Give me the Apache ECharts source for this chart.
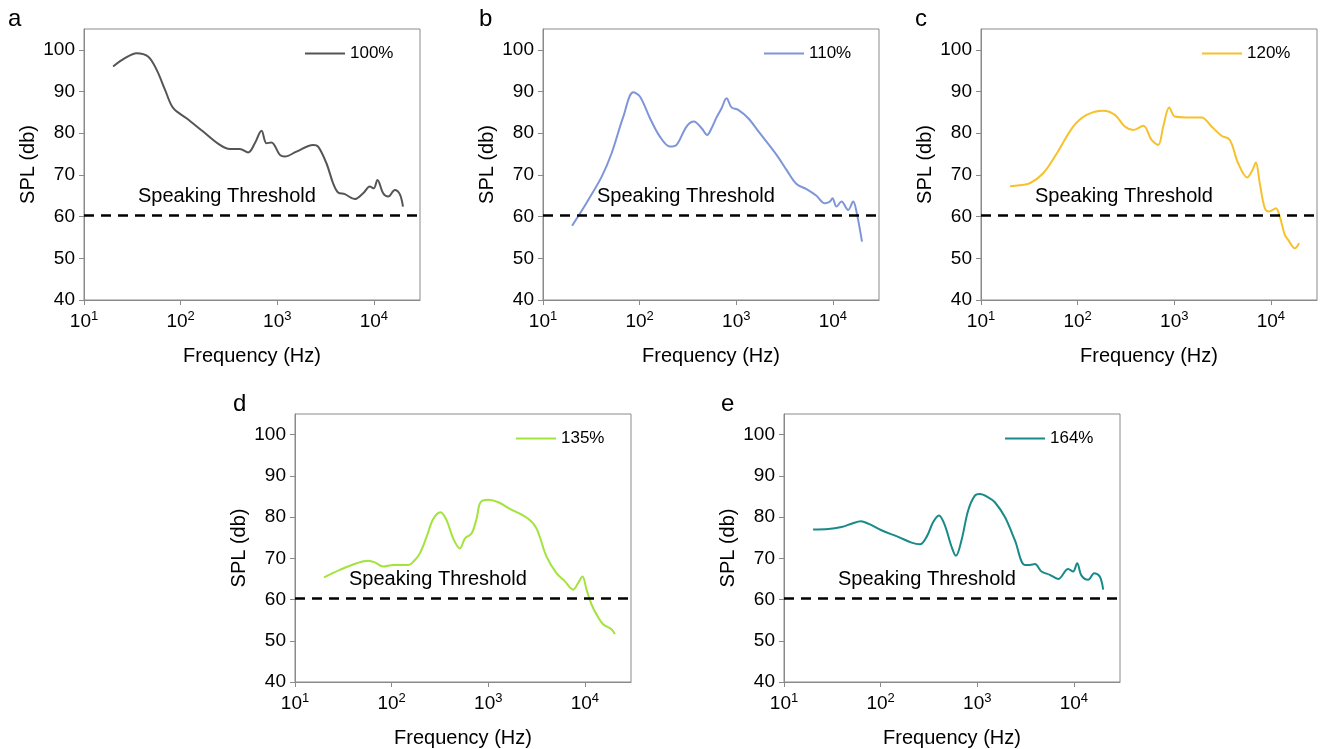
<!DOCTYPE html>
<html>
<head>
<meta charset="utf-8">
<script src="https://cdn.jsdelivr.net/npm/echarts@6/dist/echarts.min.js"></script>
<style>
  html, body { margin: 0; padding: 0; background: #fff; }
  #chart { width: 1320px; height: 749px; }
</style>
</head>
<body>
<div id="chart"></div>
<script>
// ---------- data ----------
const panelLetters = ['a', 'b', 'c', 'd', 'e'];
const seriesNames = ['100%', '110%', '120%', '135%', '164%'];
const seriesColors = ['#555555', '#7f95d9', '#f7c12b', '#a2e33c', '#188a88'];
const xTickValues = [10, 100, 1000, 10000];
const yTickValues = [40, 50, 60, 70, 80, 90, 100];
const thresholdSPL = 60.3;
const thresholdLabel = 'Speaking Threshold';

const freqA = [20, 26.5, 35, 46, 56.5, 69, 84, 115, 171, 255, 324, 410, 500, 586, 687, 774, 871, 1064, 1197, 1581, 2350, 2649, 3228, 3784, 4266, 5000, 6339, 7745, 9078, 9977, 10890, 12470, 14060, 16480, 18530, 20000];
const splA  = [96.0, 98.0, 99.2, 98.4, 95.2, 90.4, 86.0, 83.6, 80.4, 77.2, 76.2, 76.2, 75.4, 77.6, 80.6, 77.6, 77.8, 74.8, 74.4, 75.6, 77.2, 76.8, 72.8, 68.0, 65.8, 65.4, 64.2, 65.6, 67.2, 66.8, 68.8, 65.6, 64.8, 66.4, 65.4, 62.4];

const freqB = [20, 24.2, 29.4, 40.5, 51.3, 67.8, 85.9, 100.7, 128, 162, 206, 241, 306, 364, 438, 500, 555, 625, 705, 793, 893, 1047, 1330, 1754, 2612, 3311, 4207, 5333, 6761, 8260, 9290, 9908, 10890, 12270, 14390, 16220, 17540, 20000];
const splB  = [57.8, 60.8, 64.0, 69.6, 75.2, 84.0, 89.8, 88.8, 83.6, 79.2, 76.8, 77.2, 81.6, 82.8, 81.2, 79.6, 81.2, 83.8, 86.0, 88.4, 86.2, 85.6, 83.6, 80.0, 74.8, 71.2, 67.8, 66.6, 65.0, 63.2, 63.6, 64.4, 62.4, 63.6, 61.6, 63.6, 61.2, 54.0];

const freqC = [20, 25, 32, 44, 61, 90, 124, 184, 243, 308, 377, 478, 582, 682, 769, 887, 1014, 1340, 1914, 2432, 3083, 3758, 4581, 5675, 6457, 6982, 7674, 8650, 9594, 11250, 12360, 13930, 15100, 17700, 19590];
const splC  = [67.3, 67.5, 68.0, 70.4, 75.2, 81.6, 84.4, 85.4, 84.4, 81.6, 80.8, 81.8, 78.4, 77.2, 81.6, 86.2, 84.0, 83.8, 83.8, 81.6, 79.4, 78.4, 72.8, 69.4, 71.2, 73.0, 68.0, 62.0, 61.2, 62.0, 60.0, 55.6, 54.4, 52.4, 53.6];

const freqD = [20, 29.2, 43.5, 57.3, 67.1, 81.8, 104, 149, 174, 196, 230, 270, 321, 371, 434, 509, 573, 671, 757, 832, 1000, 1268, 1675, 2588, 3162, 4009, 5082, 6209, 7568, 8511, 9441, 10400, 11700, 13180, 15450, 18840, 20400];
const splD  = [65.4, 67.2, 68.8, 69.4, 69.0, 68.0, 68.4, 68.4, 69.6, 71.2, 75.2, 79.6, 81.2, 79.2, 74.8, 72.4, 74.8, 76.0, 79.6, 83.6, 84.2, 83.6, 82.0, 79.6, 77.2, 70.4, 66.4, 64.4, 62.4, 64.0, 65.6, 62.4, 58.8, 56.4, 54.0, 52.8, 51.6];

const freqE = [20, 28.7, 39.4, 50.1, 62.5, 74.5, 102, 152, 209, 255, 299, 350, 401, 462, 542, 601, 687, 805, 944, 1064, 1297, 1521, 1932, 2449, 3105, 3499, 3945, 4624, 5636, 6871, 8730, 9817, 10810, 11990, 14060, 16220, 18530, 20090];
const splE  = [77.0, 77.1, 77.6, 78.4, 79.0, 78.4, 76.8, 75.2, 73.8, 73.4, 75.2, 78.8, 80.4, 78.0, 72.8, 70.6, 74.4, 81.6, 85.2, 85.6, 84.8, 83.6, 80.0, 74.4, 68.4, 68.4, 68.6, 66.8, 66.0, 65.0, 67.4, 66.8, 68.8, 65.8, 64.8, 66.4, 65.6, 62.4];

const freqs = [freqA, freqB, freqC, freqD, freqE];
const spls = [splA, splB, splC, splD, splE];

// ---------- layout ----------
const FONT = '"Liberation Sans", Arial, Helvetica, sans-serif';
const grids = [
  { left: 84,  top: 29,  width: 336, height: 271 },
  { left: 543, top: 29,  width: 336, height: 271 },
  { left: 981, top: 29,  width: 336, height: 271 },
  { left: 295, top: 414, width: 336, height: 271 },
  { left: 784, top: 414, width: 336, height: 271 }
];
const AXIS_GRAY = '#8a8a8a';

const option = {
  animation: false,
  backgroundColor: '#ffffff',
  textStyle: { fontFamily: FONT },
  grid: grids.map(g => ({ left: g.left, top: g.top, width: g.width, height: g.height,
    show: true, borderColor: AXIS_GRAY, borderWidth: 1, containLabel: false })),
  xAxis: grids.map((g, i) => ({
    type: 'log', logBase: 10, gridIndex: i, min: 10, max: 30000,
    name: 'Frequency (Hz)', nameLocation: 'middle', nameGap: 46,
    nameTextStyle: { fontSize: 20, color: '#000', fontFamily: FONT },
    axisLine: { show: true, lineStyle: { color: AXIS_GRAY, width: 1 } },
    axisTick: { show: true, length: 5, inside: false, customValues: xTickValues, lineStyle: { color: AXIS_GRAY } },
    splitLine: { show: false },
    minorTick: { show: false },
    axisLabel: {
      customValues: xTickValues,
      margin: 10,
      color: '#000',
      formatter: function (v) {
        const e = Math.round(Math.log10(v));
        return '{b|10}{s|' + e + '}';
      },
      rich: {
        b: { fontSize: 19, color: '#000', fontFamily: FONT, lineHeight: 24 },
        s: { fontSize: 13, color: '#000', fontFamily: FONT, verticalAlign: 'top', lineHeight: 14 }
      }
    }
  })),
  yAxis: grids.map((g, i) => ({
    type: 'value', gridIndex: i, min: 40, max: 105, interval: 10,
    name: 'SPL (db)', nameLocation: 'middle', nameGap: 46, nameRotate: 90,
    nameTextStyle: { fontSize: 20, color: '#000', fontFamily: FONT },
    axisLine: { show: true, lineStyle: { color: AXIS_GRAY, width: 1 } },
    axisTick: { show: true, length: 5, inside: false, customValues: yTickValues, lineStyle: { color: AXIS_GRAY } },
    splitLine: { show: false },
    axisLabel: { customValues: yTickValues, margin: 9, fontSize: 19, color: '#000', fontFamily: FONT }
  })),
  legend: grids.map((g, i) => ({
    data: [{ name: seriesNames[i], icon: 'rect' }],
    left: g.left + 221, top: g.top + 16,
    padding: 0,
    itemWidth: 40, itemHeight: 2, itemGap: 5,
    itemStyle: { color: seriesColors[i] },
    textStyle: { fontSize: 17, color: '#000', fontFamily: FONT },
    selectedMode: false
  })),
  graphic: grids.map((g, i) => ({
    type: 'text',
    left: [8, 479, 915, 233, 721][i],
    top: g.top - 22,
    style: { text: panelLetters[i], fontSize: 24, fill: '#000', fontFamily: FONT }
  })),
  series: grids.map((g, i) => ({
    type: 'line',
    name: seriesNames[i],
    xAxisIndex: i, yAxisIndex: i,
    data: freqs[i].map((f, k) => [f, spls[i][k]]),
    smooth: 0.35,
    symbol: 'none',
    lineStyle: { color: seriesColors[i], width: 2 },
    itemStyle: { color: seriesColors[i] },
    silent: true,
    markLine: {
      silent: true,
      symbol: 'none',
      animation: false,
      data: [{ yAxis: thresholdSPL }],
      lineStyle: { color: '#000', type: [10, 7], width: 2.5 },
      label: {
        show: true,
        position: 'insideStartTop',
        distance: [54, 9],
        formatter: thresholdLabel,
        fontSize: 20, color: '#000', fontFamily: FONT
      },
      emphasis: { disabled: true }
    }
  }))
};

const chart = echarts.init(document.getElementById('chart'), null, { renderer: 'canvas' });
chart.setOption(option);
</script>
</body>
</html>
